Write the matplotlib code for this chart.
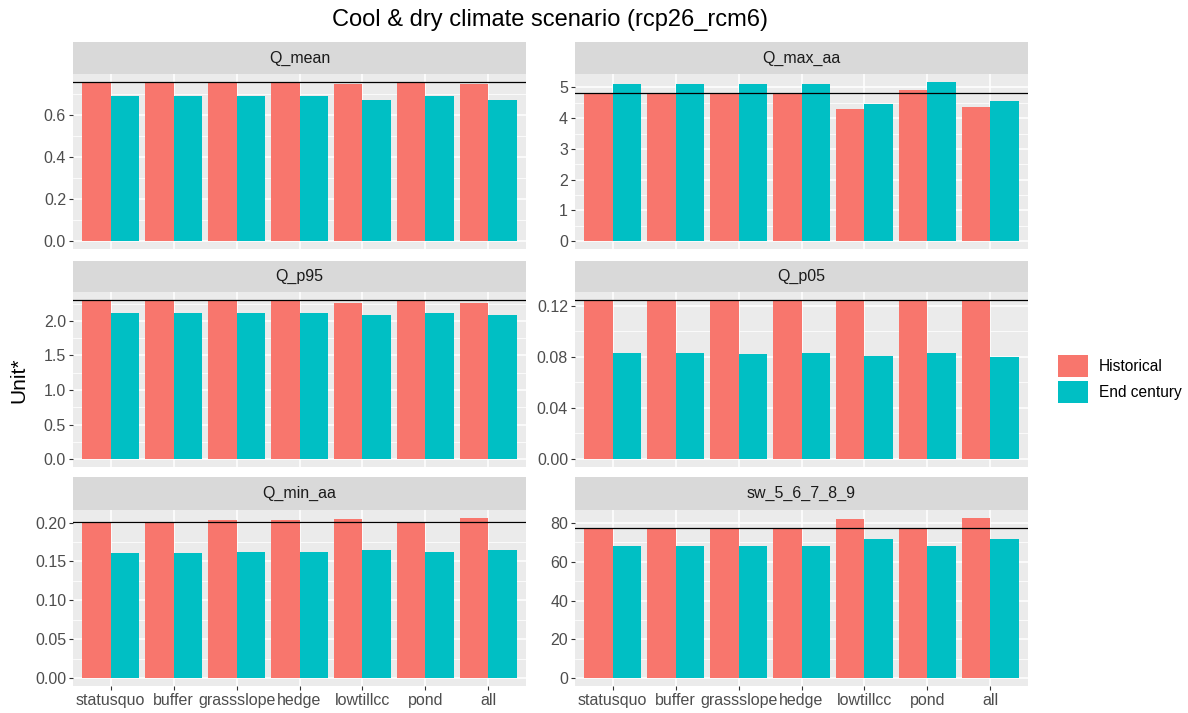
import matplotlib
matplotlib.use('Agg')
import matplotlib.pyplot as plt
import matplotlib.patches as mpatches
from matplotlib.ticker import AutoMinorLocator, MultipleLocator, FormatStrFormatter
import numpy as np

plt.rcParams['font.family'] = ['Liberation Sans', 'DejaVu Sans']

categories = ['statusquo', 'buffer', 'grassslope', 'hedge', 'lowtillcc', 'pond', 'all']
series_names = ['Historical', 'End century']
colors = ['#F8766D', '#00BFC4']

facets = ['Q_mean', 'Q_max_aa', 'Q_p95', 'Q_p05', 'Q_min_aa', 'sw_5_6_7_8_9']

hist_q_mean = [0.758, 0.758, 0.758, 0.758, 0.747, 0.758, 0.747]
end_q_mean = [0.690, 0.690, 0.690, 0.690, 0.674, 0.690, 0.674]

hist_q_max_aa = [4.82, 4.82, 4.82, 4.82, 4.30, 4.93, 4.36]
end_q_max_aa = [5.11, 5.11, 5.11, 5.11, 4.47, 5.18, 4.55]

hist_q_p95 = [2.304, 2.304, 2.304, 2.304, 2.265, 2.304, 2.265]
end_q_p95 = [2.12, 2.12, 2.12, 2.12, 2.087, 2.12, 2.087]

hist_q_p05 = [0.1244, 0.1244, 0.1244, 0.1244, 0.1244, 0.1244, 0.1244]
end_q_p05 = [0.0831, 0.0831, 0.0823, 0.0831, 0.0808, 0.0831, 0.0797]

hist_q_min_aa = [0.2013, 0.2013, 0.2035, 0.2035, 0.2047, 0.2013, 0.206]
end_q_min_aa = [0.1615, 0.1615, 0.1628, 0.1628, 0.1646, 0.1628, 0.1646]

hist_sw = [77.3, 77.3, 77.3, 77.3, 82.1, 77.3, 82.6]
end_sw = [68.1, 68.1, 68.1, 68.1, 72.0, 68.1, 72.0]

hist_all = [hist_q_mean, hist_q_max_aa, hist_q_p95, hist_q_p05, hist_q_min_aa, hist_sw]
end_all = [end_q_mean, end_q_max_aa, end_q_p95, end_q_p05, end_q_min_aa, end_sw]
tick_steps = [0.2, 1, 0.5, 0.04, 0.05, 20]
tick_fmt = ['%.1f', '%d', '%.1f', '%.2f', '%.2f', '%d']

W, H = 1188, 713
fig = plt.figure(figsize=(W / 100, H / 100), dpi=100)


def px_axes(x0, y0, x1, y1):
    return fig.add_axes([x0 / W, 1 - y1 / H, (x1 - x0) / W, (y1 - y0) / H])


cols = [(73, 526), (575, 1028)]
rows = [(42, 74, 249), (261, 292, 467), (477, 510, 686)]

x = np.arange(len(categories))
for i, name in enumerate(facets):
    r, c = divmod(i, 2)
    x0, x1 = cols[c]
    st, sb, pb = rows[r]
    # strip
    sax = px_axes(x0, st, x1, sb)
    sax.set_facecolor('#D9D9D9')
    sax.set_xticks([])
    sax.set_yticks([])
    for s in sax.spines.values():
        s.set_visible(False)
    sax.text(0.5, 0.5, name, ha='center', va='center', fontsize=11.5, color='#1A1A1A',
             transform=sax.transAxes)
    # panel
    ax = px_axes(x0, sb, x1, pb)
    ax.set_facecolor('#EBEBEB')
    for s in ax.spines.values():
        s.set_visible(False)
    ax.set_axisbelow(True)
    h = hist_all[i]
    e = end_all[i]
    ax.bar(x - 0.225, h, width=0.45, color=colors[0], zorder=2)
    ax.bar(x + 0.225, e, width=0.45, color=colors[1], zorder=2)
    ax.axhline(h[0], color='black', lw=0.9, zorder=3)
    top = max(max(h), max(e))
    ax.set_ylim(-0.05 * top, 1.05 * top)
    ax.set_xlim(-0.6, len(categories) - 0.4)
    ax.yaxis.set_major_locator(MultipleLocator(tick_steps[i]))
    ax.yaxis.set_minor_locator(AutoMinorLocator(2))
    ax.yaxis.set_major_formatter(FormatStrFormatter(tick_fmt[i]))
    ax.grid(which='major', color='white', lw=1.1)
    ax.grid(which='minor', axis='y', color='white', lw=0.55)
    ax.tick_params(axis='y', which='major', length=3, width=0.8, color='#333333',
                   labelsize=11.5, labelcolor='#4D4D4D', pad=2)
    ax.tick_params(axis='y', which='minor', length=0)
    ax.set_xticks(x)
    if r == 2:
        ax.set_xticklabels(categories)
        ax.tick_params(axis='x', length=3, width=0.8, color='#333333',
                       labelsize=11.5, labelcolor='#4D4D4D', pad=2)
    else:
        ax.set_xticklabels([])
        ax.tick_params(axis='x', length=0)

fig.text(550 / W, 1 - 20 / H, 'Cool & dry climate scenario (rcp26_rcm6)', ha='center',
         va='center', fontsize=17, color='black')
fig.text(19 / W, 1 - 380 / H, 'Unit*', ha='center', va='center', rotation=90,
         fontsize=15, color='black')

handles = [mpatches.Patch(facecolor=colors[k], edgecolor='none', label=series_names[k])
           for k in range(2)]
fs = 11.2
fig.legend(handles=handles, loc='upper left', bbox_to_anchor=(1058 / W, 1 - 355 / H),
           frameon=False, fontsize=fs, handlelength=30 / (fs * 100 / 72),
           handleheight=28 / (fs * 100 / 72), labelspacing=0.26, handletextpad=0.7,
           borderpad=0, borderaxespad=0)

fig.savefig('out.png', dpi=100)
